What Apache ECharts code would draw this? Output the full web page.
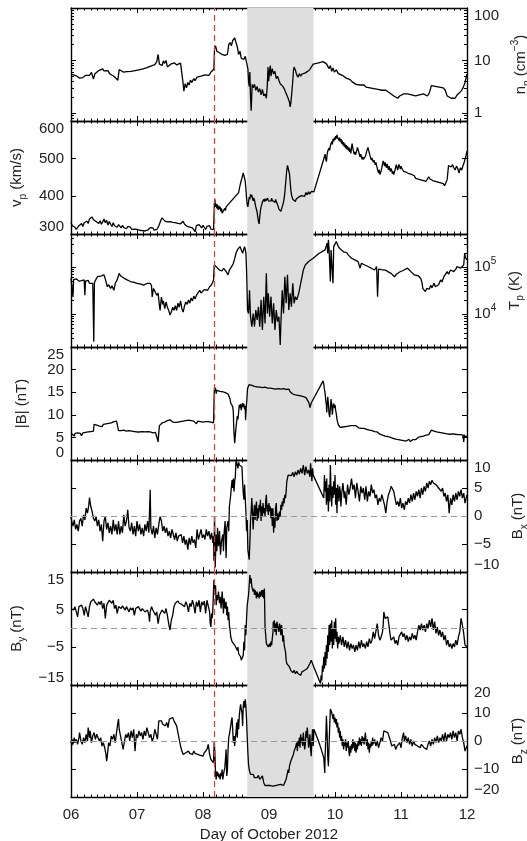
<!DOCTYPE html>
<html><head><meta charset="utf-8">
<script src="https://cdn.jsdelivr.net/npm/echarts@6/dist/echarts.min.js"></script>
<style>html,body{margin:0;padding:0;background:#fff}#c{width:527px;height:841px}</style>
</head><body><div id="c"></div>
<script>
// ---- data (day of October 2012, value) ----
const dayMin = 6, dayMax = 12;
const shockDay = 8.167;
const sheathStart = 8.67, sheathEnd = 9.675;

const np = [[6.00,5.4],[6.02,5.0],[6.04,5.3],[6.06,4.9],[6.08,5.1],[6.10,4.8],[6.13,4.6],[6.15,5.0],[6.18,4.7],[6.20,4.5],[6.22,5.2],[6.25,5.6],[6.28,5.2],[6.31,5.9],[6.34,4.4],[6.36,5.5],[6.39,5.9],[6.42,6.4],[6.45,6.0],[6.48,6.9],[6.50,6.3],[6.53,6.0],[6.56,6.4],[6.59,5.5],[6.62,5.2],[6.65,5.0],[6.68,4.6],[6.71,4.2],[6.73,6.7],[6.76,6.2],[6.79,6.0],[6.82,5.7],[6.85,6.1],[6.88,5.6],[6.91,6.2],[6.94,5.9],[6.97,6.4],[7.00,6.2],[7.03,6.6],[7.06,6.3],[7.09,6.9],[7.12,6.7],[7.15,7.3],[7.18,7.0],[7.21,7.8],[7.24,7.4],[7.27,8.3],[7.30,9.5],[7.32,13],[7.34,8.5],[7.36,9.2],[7.38,8.0],[7.40,9.8],[7.42,8.8],[7.44,10],[7.46,7.5],[7.48,7.1],[7.51,8.5],[7.54,7.8],[7.57,9.0],[7.60,8.2],[7.63,7.6],[7.66,8.9],[7.68,9.0],[7.695,4.0],[7.71,2.6],[7.73,3.6],[7.75,3.0],[7.77,3.8],[7.79,3.4],[7.81,4.2],[7.83,3.8],[7.86,4.5],[7.88,4.1],[7.91,4.8],[7.94,4.4],[7.97,5.0],[8.00,4.7],[8.03,5.3],[8.06,5.6],[8.09,5.2],[8.12,6.0],[8.15,6.4],[8.165,6.8],[8.175,17],[8.19,19],[8.21,15],[8.23,16],[8.25,14],[8.27,15],[8.29,13],[8.31,14],[8.33,12.5],[8.35,13.5],[8.37,13],[8.39,20],[8.41,22],[8.43,19],[8.45,24],[8.47,23],[8.48,27],[8.50,22],[8.52,18],[8.54,13],[8.56,15],[8.58,11],[8.60,12],[8.62,10.5],[8.64,12],[8.66,11],[8.68,7.0],[8.69,4.0],[8.70,3.2],[8.71,6.0],[8.72,2.0],[8.73,1.1],[8.745,3.5],[8.76,3.0],[8.78,3.5],[8.80,2.7],[8.82,3.2],[8.84,2.5],[8.86,2.9],[8.88,2.2],[8.90,2.8],[8.92,2.1],[8.94,2.3],[8.96,1.9],[8.975,3.5],[8.985,7.5],[8.995,4.0],[9.01,6.5],[9.02,8.0],[9.03,5.0],[9.05,7.0],[9.07,5.5],[9.09,6.2],[9.11,4.5],[9.13,5.0],[9.15,4.2],[9.17,3.6],[9.19,3.9],[9.21,3.2],[9.23,2.9],[9.25,2.5],[9.27,2.2],[9.29,1.9],[9.31,1.6],[9.32,1.3],[9.33,1.5],[9.345,2.4],[9.36,4.0],[9.37,6.3],[9.38,7.5],[9.40,6.5],[9.42,5.3],[9.44,4.8],[9.46,5.6],[9.48,5.0],[9.50,5.5],[9.52,5.1],[9.55,5.8],[9.58,6.2],[9.61,6.5],[9.64,7.0],[9.67,8.5],[9.75,9.0],[9.82,9.5],[9.85,9.8],[9.87,8.6],[9.89,9.2],[9.91,7.0],[9.93,8.0],[9.95,6.2],[9.97,7.2],[9.99,6.0],[10.02,6.6],[10.05,5.6],[10.08,5.9],[10.11,5.2],[10.14,5.0],[10.17,4.6],[10.20,4.4],[10.23,4.3],[10.26,3.9],[10.29,3.7],[10.32,3.5],[10.35,3.6],[10.38,3.4],[10.41,3.3],[10.44,3.4],[10.47,3.1],[10.50,3.2],[10.53,3.0],[10.56,3.1],[10.59,2.9],[10.62,3.0],[10.65,2.8],[10.68,2.9],[10.71,2.7],[10.74,2.6],[10.77,2.7],[10.80,2.5],[10.83,2.4],[10.86,2.3],[10.89,2.1],[10.92,2.0],[10.95,1.9],[10.98,2.1],[11.01,2.0],[11.04,2.3],[11.07,2.5],[11.10,2.3],[11.13,2.4],[11.16,2.2],[11.19,2.3],[11.22,2.1],[11.25,2.0],[11.28,2.2],[11.31,2.1],[11.34,2.3],[11.37,2.2],[11.40,2.1],[11.43,2.4],[11.46,3.3],[11.49,3.1],[11.52,3.2],[11.55,3.0],[11.58,3.1],[11.61,2.9],[11.64,3.0],[11.67,2.7],[11.70,2.1],[11.73,2.0],[11.76,1.9],[11.79,2.0],[11.82,1.9],[11.85,2.2],[11.88,2.4],[11.91,2.6],[11.94,3.0],[11.97,3.8],[12.00,5.5]];

const vp = [[6.00,330],[6.02,322],[6.04,326],[6.06,318],[6.08,312],[6.10,309],[6.12,322],[6.14,318],[6.16,328],[6.18,320],[6.20,330],[6.22,325],[6.24,334],[6.26,328],[6.28,340],[6.30,336],[6.32,345],[6.34,338],[6.36,342],[6.38,333],[6.40,338],[6.42,328],[6.44,335],[6.46,326],[6.48,332],[6.50,340],[6.52,330],[6.54,336],[6.56,324],[6.58,333],[6.60,326],[6.62,320],[6.64,330],[6.66,322],[6.68,327],[6.70,318],[6.72,325],[6.74,320],[6.76,316],[6.78,323],[6.80,317],[6.82,322],[6.84,314],[6.86,320],[6.88,315],[6.90,318],[6.92,312],[6.94,317],[6.96,313],[6.98,318],[7.00,312],[7.02,316],[7.04,310],[7.06,315],[7.08,309],[7.10,313],[7.12,308],[7.14,304],[7.16,310],[7.18,314],[7.20,317],[7.22,312],[7.24,316],[7.26,310],[7.28,314],[7.30,312],[7.32,318],[7.34,326],[7.36,336],[7.38,343],[7.40,338],[7.42,335],[7.44,337],[7.46,332],[7.48,336],[7.50,333],[7.52,335],[7.54,331],[7.56,334],[7.58,330],[7.60,333],[7.62,328],[7.64,332],[7.66,327],[7.68,330],[7.70,334],[7.72,326],[7.74,330],[7.76,320],[7.78,325],[7.80,318],[7.82,322],[7.84,316],[7.86,320],[7.88,306],[7.90,322],[7.92,318],[7.94,325],[7.96,320],[7.98,316],[8.00,323],[8.02,318],[8.04,312],[8.06,320],[8.08,316],[8.10,322],[8.12,313],[8.14,318],[8.16,312],[8.165,316],[8.172,380],[8.18,392],[8.19,372],[8.20,380],[8.21,368],[8.22,378],[8.23,364],[8.24,375],[8.25,366],[8.26,372],[8.27,360],[8.28,368],[8.29,355],[8.30,350],[8.31,362],[8.32,358],[8.33,368],[8.34,362],[8.35,372],[8.36,368],[8.37,376],[8.38,372],[8.39,380],[8.40,376],[8.41,383],[8.42,380],[8.43,388],[8.44,384],[8.45,392],[8.46,388],[8.47,396],[8.48,393],[8.49,400],[8.50,398],[8.51,404],[8.52,402],[8.53,406],[8.54,410],[8.55,420],[8.56,428],[8.57,436],[8.58,440],[8.59,448],[8.60,452],[8.61,462],[8.62,455],[8.63,448],[8.64,440],[8.65,420],[8.66,395],[8.67,378],[8.68,372],[8.69,385],[8.70,398],[8.71,392],[8.72,405],[8.73,398],[8.74,404],[8.75,394],[8.76,388],[8.77,396],[8.78,390],[8.79,380],[8.80,372],[8.81,365],[8.82,358],[8.83,345],[8.84,334],[8.85,327],[8.86,345],[8.87,362],[8.88,372],[8.89,378],[8.90,385],[8.91,380],[8.92,392],[8.93,386],[8.94,394],[8.95,388],[8.96,392],[8.97,386],[8.98,395],[8.99,388],[9.00,393],[9.01,386],[9.02,391],[9.03,387],[9.04,395],[9.05,389],[9.06,392],[9.07,385],[9.08,390],[9.09,384],[9.10,392],[9.11,386],[9.12,382],[9.13,378],[9.14,372],[9.15,366],[9.16,362],[9.17,368],[9.18,360],[9.19,365],[9.20,372],[9.21,378],[9.22,385],[9.23,395],[9.24,410],[9.25,430],[9.26,452],[9.27,470],[9.28,482],[9.29,487],[9.30,478],[9.31,460],[9.32,440],[9.33,418],[9.34,405],[9.35,398],[9.36,392],[9.37,396],[9.38,388],[9.39,394],[9.40,386],[9.41,392],[9.42,388],[9.43,395],[9.44,390],[9.45,398],[9.46,393],[9.47,400],[9.48,396],[9.49,402],[9.50,398],[9.52,405],[9.54,400],[9.56,410],[9.58,404],[9.60,412],[9.62,406],[9.64,413],[9.66,408],[9.68,412],[9.84,505],[9.85,512],[9.86,498],[9.87,492],[9.88,510],[9.89,520],[9.90,515],[9.91,528],[9.92,522],[9.93,535],[9.94,530],[9.95,545],[9.96,538],[9.97,552],[9.98,546],[9.99,556],[10.00,550],[10.01,560],[10.02,553],[10.03,563],[10.04,556],[10.05,560],[10.06,548],[10.07,556],[10.08,545],[10.09,552],[10.10,540],[10.11,548],[10.12,536],[10.13,544],[10.14,532],[10.15,540],[10.16,528],[10.17,536],[10.18,525],[10.19,533],[10.20,522],[10.21,530],[10.22,518],[10.23,526],[10.24,514],[10.25,530],[10.26,540],[10.27,528],[10.28,520],[10.29,512],[10.30,518],[10.31,510],[10.32,516],[10.33,522],[10.34,530],[10.35,526],[10.36,518],[10.37,510],[10.38,504],[10.39,512],[10.40,506],[10.41,498],[10.42,505],[10.43,498],[10.44,503],[10.45,498],[10.46,506],[10.47,512],[10.48,520],[10.49,515],[10.50,530],[10.51,522],[10.52,515],[10.53,508],[10.54,502],[10.55,496],[10.56,502],[10.57,496],[10.58,490],[10.59,496],[10.60,490],[10.61,484],[10.62,490],[10.63,482],[10.64,475],[10.65,468],[10.66,462],[10.67,470],[10.68,458],[10.69,462],[10.70,468],[10.71,476],[10.72,486],[10.73,494],[10.74,488],[10.75,480],[10.76,490],[10.77,482],[10.78,476],[10.79,486],[10.80,478],[10.81,470],[10.82,480],[10.83,472],[10.84,466],[10.85,474],[10.86,468],[10.87,460],[10.88,466],[10.89,458],[10.90,464],[10.91,470],[10.92,478],[10.93,484],[10.94,476],[10.95,470],[10.96,478],[10.97,485],[10.98,479],[10.99,472],[11.00,480],[11.02,472],[11.04,466],[11.06,470],[11.08,464],[11.10,468],[11.12,460],[11.14,465],[11.16,458],[11.18,462],[11.20,455],[11.22,448],[11.24,452],[11.26,446],[11.28,450],[11.30,444],[11.32,448],[11.34,442],[11.36,446],[11.38,440],[11.40,446],[11.42,452],[11.44,446],[11.46,450],[11.48,442],[11.50,446],[11.52,440],[11.54,444],[11.56,438],[11.58,442],[11.60,436],[11.62,440],[11.64,434],[11.66,428],[11.68,436],[11.70,445],[11.72,482],[11.74,486],[11.76,478],[11.78,484],[11.80,476],[11.82,470],[11.84,480],[11.86,474],[11.88,462],[11.90,476],[11.92,470],[11.94,482],[11.96,492],[11.98,505],[12.00,520]];

const tp = [[6.00,5.7e4],[6.01,5.3e4],[6.02,5.5e4],[6.03,2.3e4],[6.04,5.4e4],[6.06,5.2e4],[6.08,5.6e4],[6.10,5.5e4],[6.12,5.0e4],[6.14,5.4e4],[6.16,5.1e4],[6.18,5.4e4],[6.20,5.3e4],[6.21,2.5e4],[6.22,5.0e4],[6.24,4.9e4],[6.26,5.2e4],[6.28,4.5e4],[6.30,4.7e4],[6.33,4.5e4],[6.345,2.6e3],[6.355,4.6e4],[6.37,5.2e4],[6.40,6.2e4],[6.42,5.8e4],[6.45,6.4e4],[6.48,6.0e4],[6.50,6.8e4],[6.52,5.5e4],[6.55,3.8e4],[6.57,4.2e4],[6.60,3.5e4],[6.62,4.0e4],[6.65,3.2e4],[6.67,4.5e4],[6.70,5.3e4],[6.72,6.6e4],[6.73,7.3e4],[6.75,6.5e4],[6.78,6.2e4],[6.80,5.8e4],[6.83,6.0e4],[6.85,5.3e4],[6.88,5.6e4],[6.90,4.9e4],[6.93,5.1e4],[6.96,4.7e4],[7.00,4.5e4],[7.03,4.6e4],[7.06,4.3e4],[7.10,4.1e4],[7.13,4.3e4],[7.16,4.5e4],[7.20,4.5e4],[7.22,4.0e4],[7.23,2.3e4],[7.25,3.5e4],[7.28,3.3e4],[7.30,2.5e4],[7.32,2.8e4],[7.34,1.5e4],[7.35,1.2e4],[7.37,2.3e4],[7.39,1.6e4],[7.40,1.9e4],[7.42,1.3e4],[7.44,1.8e4],[7.46,1.4e4],[7.48,1.2e4],[7.50,9.5e3],[7.52,1.1e4],[7.54,1.4e4],[7.56,1.2e4],[7.58,1.5e4],[7.60,1.2e4],[7.62,1.7e4],[7.64,1.4e4],[7.66,1.9e4],[7.68,1.3e4],[7.70,1.1e4],[7.72,1.5e4],[7.74,1.8e4],[7.76,1.6e4],[7.78,2.0e4],[7.80,1.7e4],[7.82,2.2e4],[7.84,1.9e4],[7.86,2.4e4],[7.88,2.1e4],[7.90,2.5e4],[7.92,2.3e4],[7.95,3.2e4],[7.97,2.8e4],[8.00,3.0e4],[8.02,3.3e4],[8.05,3.5e4],[8.07,3.2e4],[8.10,3.8e4],[8.13,4.2e4],[8.16,5.3e4],[8.17,1.1e5],[8.19,1.05e5],[8.21,9.8e4],[8.23,1.0e5],[8.25,8.6e4],[8.27,9.0e4],[8.29,8.2e4],[8.31,9.4e4],[8.33,8.8e4],[8.35,8.0e4],[8.37,7.5e4],[8.38,6.8e4],[8.40,8.6e4],[8.42,9.2e4],[8.44,1.05e5],[8.46,1.2e5],[8.48,1.5e5],[8.50,1.95e5],[8.52,2.3e5],[8.54,2.5e5],[8.56,2.7e5],[8.58,2.94e5],[8.60,1.95e5],[8.61,2.2e5],[8.63,2.7e5],[8.65,2.0e5],[8.66,8.6e4],[8.675,1.2e4],[8.69,1.03e4],[8.705,3.2e4],[8.72,8.8e3],[8.74,5.4e3],[8.76,1.03e4],[8.78,5.4e3],[8.80,1.22e4],[8.82,7.5e3],[8.84,1.43e4],[8.86,5.4e3],[8.88,2.0e4],[8.90,4.6e3],[8.92,2.34e4],[8.94,6.3e3],[8.96,7.3e4],[8.975,1.03e4],[8.99,2.75e4],[9.01,8.8e3],[9.03,2.34e4],[9.05,6.3e3],[9.07,1.69e4],[9.09,4.6e3],[9.11,1.22e4],[9.13,6.9e3],[9.15,8.8e3],[9.16,4.6e3],[9.17,2.2e3],[9.18,6.3e3],[9.20,3.2e4],[9.22,1.03e4],[9.24,6.2e4],[9.26,1.69e4],[9.28,6.8e4],[9.30,1.22e4],[9.32,2.75e4],[9.34,1.43e4],[9.36,4.5e4],[9.38,1.69e4],[9.40,2.34e4],[9.42,2.0e4],[9.45,2.75e4],[9.48,4.5e4],[9.52,8.6e4],[9.55,1.1e5],[9.60,1.3e5],[9.67,1.53e5],[9.75,1.9e5],[9.85,2.3e5],[9.87,2.5e5],[9.88,3.2e5],[9.89,1.95e5],[9.90,3.75e5],[9.91,2.4e5],[9.92,2.3e5],[9.93,4.9e4],[9.94,2.3e5],[9.96,7.3e4],[9.97,4.5e4],[9.98,2.7e5],[10.00,2.9e5],[10.02,3.46e5],[10.05,2.71e5],[10.08,2.4e5],[10.10,2.3e5],[10.13,2.1e5],[10.15,1.95e5],[10.18,2.0e5],[10.20,1.8e5],[10.23,1.7e5],[10.25,1.53e5],[10.28,1.5e5],[10.30,1.41e5],[10.33,1.35e5],[10.35,1.3e5],[10.37,1.2e5],[10.38,9.4e4],[10.40,1.2e5],[10.43,1.1e5],[10.45,1.1e5],[10.48,1.05e5],[10.50,1.02e5],[10.53,1.0e5],[10.55,9.4e4],[10.58,9.8e4],[10.60,8.6e4],[10.62,9.4e4],[10.63,1.02e5],[10.645,2.34e4],[10.66,9.0e4],[10.68,8.6e4],[10.70,8.8e4],[10.73,8.2e4],[10.76,8.6e4],[10.80,7.96e4],[10.83,7.5e4],[10.85,7.3e4],[10.88,6.8e4],[10.90,6.2e4],[10.93,7.0e4],[10.95,7.3e4],[10.98,7.8e4],[11.00,7.96e4],[11.03,8.4e4],[11.06,9.0e4],[11.10,9.4e4],[11.13,8.6e4],[11.15,7.96e4],[11.18,7.5e4],[11.20,6.8e4],[11.23,7.0e4],[11.26,6.5e4],[11.28,6.2e4],[11.30,5.7e4],[11.32,4.5e4],[11.33,3.5e4],[11.35,3.8e4],[11.37,3.0e4],[11.39,3.5e4],[11.41,3.8e4],[11.43,3.4e4],[11.45,4.1e4],[11.47,3.6e4],[11.50,4.5e4],[11.52,3.8e4],[11.55,3.5e4],[11.57,4.2e4],[11.60,5.3e4],[11.62,4.8e4],[11.65,6.2e4],[11.68,6.8e4],[11.70,7.96e4],[11.72,7.0e4],[11.75,8.6e4],[11.78,8.0e4],[11.80,7.96e4],[11.83,9.0e4],[11.85,1.02e5],[11.88,9.4e4],[11.90,9.4e4],[11.93,1.0e5],[11.95,1.1e5],[11.965,1.95e5],[11.975,1.6e5],[11.99,1.5e5],[12.00,1.41e5]];

const bt = [[6.00,5.9],[6.01,5.5],[6.02,6.0],[6.03,5.6],[6.05,5.3],[6.06,5.9],[6.08,5.7],[6.10,6.0],[6.12,5.6],[6.14,5.9],[6.16,5.4],[6.18,6.0],[6.20,5.8],[6.22,6.1],[6.24,5.7],[6.26,6.2],[6.28,5.9],[6.30,6.3],[6.32,6.0],[6.34,6.4],[6.35,7.9],[6.37,8.1],[6.39,7.7],[6.41,7.9],[6.43,7.5],[6.45,7.8],[6.47,7.4],[6.49,7.9],[6.51,7.6],[6.53,8.0],[6.55,7.7],[6.57,8.1],[6.59,7.8],[6.61,8.2],[6.63,8.0],[6.65,8.5],[6.67,8.4],[6.69,8.6],[6.71,8.5],[6.72,6.5],[6.74,6.8],[6.76,6.5],[6.78,6.9],[6.80,6.6],[6.82,6.7],[6.84,6.4],[6.86,6.6],[6.88,6.5],[6.90,6.7],[6.92,6.4],[6.94,6.5],[6.96,6.3],[6.98,6.5],[7.00,6.2],[7.02,6.4],[7.04,6.2],[7.06,6.1],[7.08,6.3],[7.10,6.1],[7.12,6.2],[7.14,6.0],[7.16,6.3],[7.18,6.6],[7.20,6.2],[7.22,6.5],[7.24,6.0],[7.26,6.4],[7.28,6.1],[7.30,5.8],[7.31,4.6],[7.32,4.0],[7.33,6.0],[7.34,7.6],[7.36,7.9],[7.38,8.2],[7.40,8.0],[7.42,8.4],[7.44,8.3],[7.46,8.7],[7.48,8.5],[7.50,8.9],[7.52,8.6],[7.54,8.4],[7.56,8.7],[7.58,8.3],[7.60,8.6],[7.62,8.4],[7.64,8.7],[7.66,8.5],[7.68,8.8],[7.70,8.6],[7.72,8.5],[7.74,8.7],[7.76,8.5],[7.78,8.8],[7.80,8.6],[7.82,8.7],[7.84,8.4],[7.86,8.6],[7.88,8.3],[7.90,8.0],[7.92,8.6],[7.94,8.8],[7.96,8.5],[7.98,8.7],[8.00,8.4],[8.02,8.6],[8.04,8.5],[8.06,8.3],[8.08,8.5],[8.10,8.2],[8.12,8.4],[8.14,8.1],[8.16,8.2],[8.17,14.8],[8.175,16.2],[8.18,15.3],[8.19,15.9],[8.20,14.7],[8.21,15.4],[8.22,15.0],[8.24,15.6],[8.26,15.2],[8.28,15.5],[8.30,15.1],[8.32,15.4],[8.34,14.9],[8.36,15.2],[8.38,14.6],[8.40,14.4],[8.41,13.5],[8.42,12.6],[8.43,12.2],[8.44,12.9],[8.45,11.8],[8.46,10.5],[8.465,7.5],[8.47,6.0],[8.48,3.7],[8.49,5.5],[8.50,7.2],[8.51,8.5],[8.52,9.7],[8.53,9.0],[8.54,10.6],[8.55,12.2],[8.56,11.5],[8.57,12.4],[8.58,11.0],[8.59,12.0],[8.60,12.6],[8.61,11.7],[8.62,12.4],[8.63,11.2],[8.64,12.0],[8.645,8.8],[8.655,11.5],[8.665,13.5],[8.675,15.8],[8.685,16.2],[8.70,16.7],[8.72,16.3],[8.74,16.5],[8.76,16.1],[8.78,16.3],[8.80,16.0],[8.82,16.2],[8.84,15.9],[8.86,16.1],[8.88,15.8],[8.90,16.0],[8.92,15.9],[8.94,16.1],[8.96,15.8],[8.98,15.9],[9.00,15.7],[9.02,15.9],[9.04,15.6],[9.06,15.8],[9.08,15.5],[9.10,15.7],[9.12,15.6],[9.14,15.8],[9.16,15.5],[9.18,15.7],[9.20,15.6],[9.22,15.8],[9.24,15.5],[9.26,15.6],[9.28,15.4],[9.30,15.7],[9.32,15.1],[9.34,14.8],[9.36,14.6],[9.38,14.7],[9.40,14.4],[9.42,14.6],[9.44,14.3],[9.46,14.5],[9.48,14.2],[9.50,14.4],[9.52,14.0],[9.54,13.6],[9.56,13.8],[9.58,13.3],[9.60,12.8],[9.61,12.3],[9.62,11.6],[9.63,12.0],[9.64,12.6],[9.66,13.0],[9.82,17.5],[9.83,16.8],[9.84,15.6],[9.85,14.8],[9.86,13.2],[9.87,12.0],[9.875,10.5],[9.88,11.8],[9.89,14.0],[9.90,12.5],[9.91,10.2],[9.92,9.5],[9.93,11.5],[9.94,13.5],[9.95,12.2],[9.96,10.0],[9.97,11.8],[9.98,12.5],[9.99,11.5],[10.00,12.2],[10.01,11.0],[10.02,10.2],[10.03,9.0],[10.04,8.4],[10.05,7.8],[10.06,7.4],[10.07,7.8],[10.08,7.2],[10.10,7.5],[10.12,7.3],[10.14,7.6],[10.16,7.4],[10.18,7.7],[10.20,7.5],[10.22,7.8],[10.24,7.6],[10.26,7.9],[10.28,7.6],[10.30,7.4],[10.32,7.6],[10.34,7.3],[10.36,7.1],[10.38,7.3],[10.40,7.0],[10.42,6.8],[10.44,7.0],[10.46,6.6],[10.48,6.8],[10.50,6.4],[10.52,6.6],[10.54,6.3],[10.56,6.5],[10.58,6.2],[10.60,6.3],[10.62,6.0],[10.64,6.2],[10.66,5.9],[10.68,5.7],[10.70,5.6],[10.72,5.5],[10.74,5.6],[10.76,5.3],[10.78,5.4],[10.80,5.2],[10.82,5.3],[10.84,5.0],[10.86,5.1],[10.88,4.8],[10.90,4.9],[10.92,4.6],[10.94,4.8],[10.96,4.5],[10.98,4.7],[11.00,4.4],[11.02,4.6],[11.04,4.3],[11.06,4.5],[11.08,4.2],[11.10,4.4],[11.12,4.6],[11.14,4.1],[11.16,4.3],[11.18,4.5],[11.20,4.7],[11.22,4.5],[11.24,4.8],[11.26,5.0],[11.28,4.8],[11.30,5.2],[11.32,5.0],[11.34,5.3],[11.36,5.2],[11.38,5.5],[11.40,5.3],[11.42,5.6],[11.44,6.0],[11.46,6.6],[11.48,6.2],[11.50,6.4],[11.52,6.0],[11.54,6.2],[11.56,5.9],[11.58,6.1],[11.60,5.8],[11.62,6.0],[11.64,5.7],[11.66,5.9],[11.68,5.7],[11.70,5.8],[11.72,5.5],[11.74,5.7],[11.76,5.6],[11.78,5.8],[11.80,5.5],[11.82,5.7],[11.84,5.4],[11.86,5.6],[11.88,5.3],[11.90,5.6],[11.92,5.2],[11.94,5.5],[11.95,4.0],[11.96,5.6],[11.98,5.0],[12.00,5.3]];

const bx = [[6.00,-0.1],[6.01,-0.9],[6.03,-1.8],[6.05,-0.7],[6.07,-2.4],[6.09,-1.5],[6.11,-2.7],[6.13,-0.9],[6.15,-0.4],[6.17,-1.8],[6.19,0.2],[6.21,-0.7],[6.23,1.4],[6.25,0.5],[6.27,2.0],[6.28,3.3],[6.30,1.7],[6.32,0.8],[6.34,-0.4],[6.36,-0.9],[6.38,-0.1],[6.40,-1.8],[6.42,-0.7],[6.44,-2.7],[6.46,-1.5],[6.48,-4.5],[6.50,-0.9],[6.52,-0.1],[6.54,-2.4],[6.56,-1.2],[6.58,-3.0],[6.60,-1.8],[6.62,-3.3],[6.64,-0.7],[6.66,-2.7],[6.68,-1.5],[6.70,-3.3],[6.72,-0.9],[6.74,-3.3],[6.76,-1.8],[6.78,-3.0],[6.80,0.2],[6.82,-1.8],[6.84,-0.9],[6.86,1.1],[6.88,-2.1],[6.90,-2.7],[6.92,-1.2],[6.94,-3.3],[6.96,-1.8],[6.98,-3.6],[7.00,-0.9],[7.02,-2.7],[7.04,-1.5],[7.06,-3.3],[7.08,-2.1],[7.10,-3.6],[7.12,-1.5],[7.14,-2.7],[7.16,-0.9],[7.18,-3.0],[7.20,4.7],[7.21,-2.1],[7.23,-3.3],[7.25,-1.8],[7.27,-3.9],[7.29,-2.1],[7.31,-3.3],[7.33,-1.5],[7.35,-0.1],[7.37,-0.9],[7.39,-2.7],[7.41,-1.8],[7.43,-3.0],[7.45,-2.1],[7.47,-3.6],[7.49,-2.7],[7.51,-3.9],[7.53,-2.4],[7.55,-3.3],[7.57,-4.2],[7.59,-3.0],[7.61,-4.5],[7.63,-3.6],[7.65,-3.9],[7.67,-3.3],[7.69,-4.8],[7.71,-3.6],[7.73,-5.1],[7.75,-4.2],[7.77,-6.0],[7.79,-3.9],[7.81,-5.1],[7.83,-3.6],[7.85,-4.8],[7.87,-4.2],[7.89,-5.7],[7.91,-2.4],[7.93,-4.2],[7.95,-3.3],[7.97,-2.4],[7.99,-3.9],[8.01,-3.3],[8.03,-4.2],[8.05,-2.4],[8.07,-3.6],[8.09,-2.7],[8.11,-4.2],[8.13,-3.0],[8.15,-4.8],[8.16,-3.6],[8.165,-8.0],[8.175,-0.1],[8.185,-9.2],[8.20,-3.3],[8.21,-6.3],[8.22,-2.1],[8.235,-5.4],[8.25,-2.7],[8.265,-6.9],[8.28,-4.5],[8.30,-3.3],[8.31,-6.3],[8.32,-3.0],[8.335,-0.9],[8.35,-7.5],[8.36,-2.1],[8.38,-0.9],[8.39,-2.7],[8.40,1.7],[8.42,3.8],[8.44,6.4],[8.45,5.0],[8.46,6.7],[8.47,4.4],[8.48,6.2],[8.49,7.0],[8.50,10.0],[8.52,9.7],[8.53,8.5],[8.54,9.6],[8.55,9.1],[8.57,8.8],[8.58,9.1],[8.59,8.8],[8.60,6.2],[8.61,4.1],[8.62,2.9],[8.63,5.6],[8.65,0.8],[8.66,-2.7],[8.67,-0.7],[8.68,-6.0],[8.69,-6.9],[8.70,-7.8],[8.71,-4.8],[8.72,-0.9],[8.73,0.8],[8.74,3.2],[8.75,0.5],[8.76,-2.4],[8.77,0.5],[8.78,2.0],[8.79,-0.7],[8.80,1.4],[8.81,2.6],[8.82,-0.9],[8.83,1.4],[8.84,-0.4],[8.85,2.0],[8.86,0.8],[8.87,2.9],[8.88,-0.9],[8.89,1.7],[8.90,-0.1],[8.91,2.3],[8.92,0.5],[8.93,1.4],[8.94,-0.1],[8.95,2.6],[8.96,3.8],[8.97,0.8],[8.98,2.0],[8.99,0.2],[9.00,2.3],[9.01,0.8],[9.02,1.7],[9.03,-0.4],[9.04,1.4],[9.05,-1.8],[9.06,1.4],[9.07,-3.0],[9.08,-0.4],[9.09,-2.1],[9.10,1.4],[9.11,2.3],[9.12,-0.9],[9.13,0.5],[9.14,-0.7],[9.15,-0.1],[9.16,0.8],[9.17,-0.1],[9.18,2.0],[9.19,1.1],[9.20,2.6],[9.21,1.7],[9.22,3.2],[9.23,2.3],[9.24,3.8],[9.25,3.2],[9.26,4.4],[9.27,6.2],[9.28,6.7],[9.29,7.3],[9.30,7.0],[9.32,7.6],[9.34,7.2],[9.36,7.8],[9.38,7.0],[9.40,7.9],[9.42,7.3],[9.44,8.2],[9.46,7.5],[9.48,8.5],[9.50,7.6],[9.52,9.1],[9.54,7.3],[9.56,8.8],[9.58,7.6],[9.60,8.2],[9.62,7.0],[9.63,9.4],[9.64,9.7],[9.65,6.2],[9.66,8.5],[9.67,7.3],[9.83,3.2],[9.84,7.3],[9.85,4.4],[9.86,6.2],[9.87,2.0],[9.875,6.7],[9.88,2.6],[9.89,5.0],[9.90,0.8],[9.91,5.6],[9.92,2.6],[9.93,9.1],[9.94,4.4],[9.95,1.7],[9.96,5.3],[9.97,3.2],[9.98,6.2],[9.99,3.8],[10.00,7.3],[10.01,2.0],[10.02,5.0],[10.03,0.5],[10.04,5.6],[10.05,4.4],[10.06,2.6],[10.07,5.3],[10.08,4.4],[10.09,1.7],[10.10,3.8],[10.12,5.9],[10.14,3.2],[10.15,4.4],[10.17,2.0],[10.19,5.6],[10.21,3.8],[10.23,5.0],[10.25,6.7],[10.27,4.7],[10.29,5.6],[10.31,3.2],[10.33,5.9],[10.35,4.4],[10.37,2.6],[10.39,5.3],[10.41,4.1],[10.43,5.0],[10.45,2.9],[10.47,5.3],[10.49,2.6],[10.51,4.4],[10.53,3.5],[10.55,5.6],[10.57,4.1],[10.59,4.7],[10.61,3.2],[10.63,3.8],[10.65,2.0],[10.67,3.2],[10.69,2.6],[10.71,3.8],[10.73,2.9],[10.75,2.0],[10.77,0.5],[10.79,2.6],[10.81,3.8],[10.83,4.4],[10.85,5.3],[10.87,5.0],[10.89,4.4],[10.91,3.2],[10.93,2.0],[10.95,2.6],[10.97,1.7],[10.99,3.2],[11.01,1.4],[11.03,2.3],[11.05,1.1],[11.07,2.6],[11.09,2.0],[11.11,3.2],[11.13,2.3],[11.15,3.8],[11.17,2.6],[11.19,4.1],[11.21,2.9],[11.23,4.4],[11.25,3.5],[11.27,4.7],[11.29,3.2],[11.31,5.0],[11.33,3.8],[11.35,5.3],[11.37,4.4],[11.39,5.9],[11.41,5.0],[11.43,6.2],[11.45,5.6],[11.47,6.4],[11.49,5.9],[11.51,6.2],[11.53,5.6],[11.55,5.9],[11.57,5.0],[11.59,5.3],[11.61,4.4],[11.63,5.0],[11.65,3.5],[11.67,4.1],[11.69,2.6],[11.71,3.8],[11.73,0.5],[11.75,3.2],[11.77,2.0],[11.79,3.8],[11.81,2.6],[11.83,4.1],[11.85,2.9],[11.87,4.4],[11.89,3.5],[11.91,4.7],[11.93,3.2],[11.95,4.1],[11.97,2.3],[12.00,3.8]];

const by = [[6.00,5.3],[6.02,5.5],[6.04,4.9],[6.06,5.8],[6.08,5.3],[6.10,3.1],[6.12,5.8],[6.14,5.5],[6.16,6.2],[6.18,5.3],[6.20,3.5],[6.22,5.8],[6.24,6.2],[6.26,3.1],[6.28,5.8],[6.30,7.1],[6.32,6.9],[6.34,7.8],[6.36,7.1],[6.38,7.5],[6.40,6.2],[6.42,7.1],[6.44,6.4],[6.46,7.3],[6.48,5.3],[6.50,6.7],[6.52,2.7],[6.54,6.2],[6.56,6.7],[6.58,7.5],[6.60,8.0],[6.62,6.7],[6.64,7.5],[6.66,5.3],[6.68,6.2],[6.70,4.0],[6.72,5.8],[6.74,6.2],[6.76,5.3],[6.78,6.0],[6.80,5.5],[6.82,4.9],[6.84,5.8],[6.86,5.3],[6.88,4.4],[6.90,5.5],[6.92,4.9],[6.94,5.5],[6.96,3.5],[6.98,5.3],[7.00,4.9],[7.02,5.8],[7.04,5.3],[7.06,4.6],[7.08,5.3],[7.10,4.9],[7.12,4.4],[7.14,4.0],[7.16,4.9],[7.18,3.5],[7.19,1.8],[7.20,4.4],[7.22,5.8],[7.24,4.9],[7.26,5.3],[7.28,3.5],[7.30,4.4],[7.31,2.7],[7.32,1.3],[7.34,3.5],[7.36,4.0],[7.38,4.9],[7.40,4.4],[7.42,4.0],[7.44,5.3],[7.46,3.5],[7.48,1.3],[7.50,-0.4],[7.52,2.2],[7.54,3.5],[7.56,5.8],[7.58,6.7],[7.60,7.1],[7.62,7.3],[7.64,6.7],[7.66,7.1],[7.68,6.4],[7.70,6.9],[7.72,5.8],[7.74,7.1],[7.76,6.2],[7.78,4.4],[7.80,6.7],[7.82,5.8],[7.84,7.5],[7.86,6.2],[7.88,4.0],[7.90,7.1],[7.92,5.8],[7.94,7.5],[7.96,4.4],[7.98,7.1],[8.00,6.2],[8.02,7.3],[8.04,4.0],[8.06,7.5],[8.08,8.0],[8.10,4.4],[8.11,1.3],[8.12,0.4],[8.13,4.0],[8.14,2.7],[8.15,5.3],[8.165,12.9],[8.18,10.2],[8.19,11.5],[8.20,6.2],[8.21,8.9],[8.22,7.5],[8.235,9.8],[8.25,6.7],[8.26,8.4],[8.275,5.3],[8.29,9.8],[8.30,7.1],[8.31,4.0],[8.32,8.0],[8.335,5.3],[8.35,7.1],[8.36,3.5],[8.37,5.8],[8.38,2.2],[8.39,4.4],[8.40,0.9],[8.41,-0.4],[8.42,-2.2],[8.44,-3.5],[8.46,-3.1],[8.48,-4.4],[8.50,-4.9],[8.51,-4.0],[8.52,-5.8],[8.53,-4.9],[8.54,-6.7],[8.56,-6.2],[8.57,-7.5],[8.58,-8.4],[8.60,-8.9],[8.61,-7.1],[8.62,-3.5],[8.63,-5.8],[8.64,0.9],[8.65,-1.8],[8.66,2.7],[8.67,6.2],[8.68,5.8],[8.69,8.9],[8.70,11.5],[8.71,14.2],[8.72,12.0],[8.73,13.3],[8.74,11.1],[8.75,10.6],[8.76,9.8],[8.77,10.6],[8.78,8.9],[8.79,10.2],[8.80,9.3],[8.81,8.0],[8.82,9.8],[8.83,8.4],[8.84,9.3],[8.85,8.0],[8.86,9.8],[8.87,8.4],[8.88,9.3],[8.89,10.2],[8.90,8.4],[8.91,10.2],[8.92,8.0],[8.93,10.6],[8.94,0.4],[8.95,-1.8],[8.96,-4.0],[8.97,-4.4],[8.98,-4.0],[8.99,-4.9],[9.00,-4.4],[9.01,-4.0],[9.02,-4.9],[9.03,-3.5],[9.04,-4.4],[9.05,-4.4],[9.06,-0.9],[9.065,1.8],[9.07,0.9],[9.08,2.2],[9.09,-0.9],[9.10,1.3],[9.11,-1.8],[9.12,1.8],[9.13,2.2],[9.14,0],[9.15,-0.9],[9.16,1.3],[9.17,0.4],[9.18,-1.8],[9.19,0.9],[9.20,-0.9],[9.21,-3.5],[9.22,-1.8],[9.23,-4.4],[9.24,-4.9],[9.25,-6.2],[9.26,-8.4],[9.27,-9.3],[9.28,-8.9],[9.29,-9.8],[9.30,-9.3],[9.31,-10.2],[9.32,-9.8],[9.33,-11.1],[9.34,-11.4],[9.35,-10.6],[9.36,-11.7],[9.38,-11.1],[9.40,-12.0],[9.42,-11.4],[9.44,-12.0],[9.46,-11.5],[9.48,-12.4],[9.50,-11.5],[9.52,-12.0],[9.54,-11.1],[9.56,-11.5],[9.58,-10.6],[9.60,-11.1],[9.62,-9.3],[9.63,-9.8],[9.64,-8.4],[9.66,-8.9],[9.67,-9.8],[9.78,-14.6],[9.79,-12.4],[9.80,-13.8],[9.81,-9.8],[9.82,-11.5],[9.83,-7.5],[9.84,-10.6],[9.85,-6.2],[9.86,-9.8],[9.87,-4.4],[9.88,-8.0],[9.89,-1.8],[9.90,-6.2],[9.91,0.9],[9.92,-4.4],[9.93,1.3],[9.94,-3.5],[9.95,2.2],[9.96,-5.3],[9.97,0],[9.98,-4.4],[9.99,1.8],[10.00,-2.7],[10.01,2.7],[10.02,-3.5],[10.03,-0.9],[10.04,-5.3],[10.05,-2.2],[10.06,-4.0],[10.08,-1.8],[10.10,-4.4],[10.12,-2.2],[10.14,-4.9],[10.16,-3.1],[10.18,-5.3],[10.20,-3.5],[10.22,-5.8],[10.24,-4.0],[10.26,-5.3],[10.28,-4.4],[10.30,-6.2],[10.32,-4.4],[10.34,-5.8],[10.36,-3.5],[10.38,-5.3],[10.40,-3.1],[10.42,-4.9],[10.44,-4.0],[10.46,-5.3],[10.48,-3.5],[10.50,-4.9],[10.52,-2.7],[10.54,-4.0],[10.56,-3.1],[10.58,-0.9],[10.60,-2.7],[10.62,-2.2],[10.64,1.3],[10.66,-1.8],[10.68,-3.1],[10.70,-2.2],[10.72,-0.9],[10.73,0.9],[10.74,4.4],[10.75,4.9],[10.76,2.7],[10.78,2.2],[10.80,3.1],[10.81,1.8],[10.82,1.3],[10.83,-0.9],[10.84,-2.2],[10.85,-3.1],[10.87,-3.5],[10.89,-2.2],[10.91,-4.0],[10.93,-3.1],[10.95,-4.4],[10.97,-2.2],[10.99,-2.7],[11.01,-0.9],[11.03,-2.2],[11.05,-1.3],[11.07,-3.1],[11.09,-1.8],[11.11,-3.5],[11.13,-2.2],[11.15,-3.1],[11.17,-1.3],[11.19,-2.7],[11.21,-1.8],[11.23,-3.1],[11.25,-0.9],[11.27,0.9],[11.29,-0.4],[11.31,1.3],[11.33,-0.4],[11.35,0.9],[11.37,-0.9],[11.39,1.3],[11.41,0],[11.43,2.2],[11.45,0.4],[11.47,2.7],[11.49,-0.4],[11.51,1.8],[11.53,-1.3],[11.55,0.4],[11.57,-1.8],[11.59,-0.4],[11.61,-2.2],[11.63,-0.9],[11.65,-3.1],[11.67,-1.8],[11.69,-4.4],[11.71,-3.1],[11.73,-4.9],[11.75,-4.0],[11.77,-5.3],[11.79,-4.0],[11.81,-4.9],[11.83,-3.1],[11.85,-4.4],[11.87,-2.2],[11.89,-0.9],[11.91,2.7],[11.93,0.9],[11.95,-1.3],[11.97,-4.4],[12.00,-4.9]];

const bz = [[6.00,0],[6.01,-1.8],[6.02,0.6],[6.03,-1.2],[6.04,0],[6.05,1.2],[6.06,-0.6],[6.08,0.6],[6.10,-1.2],[6.12,1.2],[6.13,3.0],[6.15,0],[6.17,-1.2],[6.19,1.2],[6.21,-0.6],[6.23,2.4],[6.25,0],[6.26,4.8],[6.28,1.2],[6.29,3.6],[6.31,-0.6],[6.33,1.8],[6.35,3.0],[6.37,0.6],[6.39,2.4],[6.41,1.2],[6.43,0],[6.45,1.2],[6.47,-1.8],[6.49,-0.6],[6.51,-2.4],[6.53,-4.8],[6.54,-7.2],[6.55,-5.4],[6.57,-0.6],[6.59,-1.8],[6.61,1.8],[6.63,0.6],[6.65,2.4],[6.67,-0.6],[6.69,3.0],[6.71,6.6],[6.72,7.8],[6.73,4.2],[6.75,1.8],[6.77,-0.6],[6.79,-3.0],[6.81,0],[6.83,2.4],[6.85,1.2],[6.87,3.0],[6.89,0],[6.91,3.6],[6.93,1.2],[6.95,4.2],[6.97,-3.6],[6.99,2.4],[7.01,1.2],[7.03,3.6],[7.05,1.8],[7.07,3.0],[7.09,0.6],[7.11,3.6],[7.13,1.8],[7.15,4.8],[7.17,3.0],[7.19,1.2],[7.21,2.4],[7.23,0],[7.25,1.2],[7.27,4.2],[7.29,2.4],[7.31,0.6],[7.33,7.2],[7.35,6.6],[7.37,7.2],[7.39,6.0],[7.41,6.6],[7.43,5.4],[7.45,6.6],[7.47,4.8],[7.49,7.8],[7.50,8.4],[7.52,7.8],[7.54,8.4],[7.56,7.2],[7.58,6.6],[7.60,5.4],[7.62,3.0],[7.64,0.6],[7.66,-1.8],[7.68,-3.6],[7.70,-4.8],[7.72,-5.1],[7.74,-4.2],[7.76,-4.8],[7.78,-3.6],[7.80,-4.4],[7.82,-3.9],[7.84,-4.8],[7.86,-3.6],[7.88,-4.4],[7.90,-3.9],[7.92,-4.8],[7.94,-4.2],[7.96,-5.1],[7.98,-4.4],[8.00,-5.4],[8.02,-4.2],[8.04,-4.8],[8.06,-3.0],[8.08,-1.2],[8.10,-4.8],[8.12,-6.6],[8.14,-7.2],[8.15,-6.0],[8.16,-7.8],[8.17,0],[8.18,-4.2],[8.19,-11.9],[8.20,-13.7],[8.21,-10.8],[8.22,-12.5],[8.23,-11.4],[8.24,-13.1],[8.25,-11.9],[8.26,-13.7],[8.27,-11.4],[8.28,-12.5],[8.29,-10.2],[8.30,-13.7],[8.31,-11.9],[8.32,-11.4],[8.33,-9.6],[8.34,-6.6],[8.35,-3.0],[8.36,-12.5],[8.37,-10.2],[8.38,-3.0],[8.39,1.2],[8.40,2.4],[8.42,5.4],[8.43,7.2],[8.44,8.4],[8.45,4.2],[8.46,-0.6],[8.47,1.8],[8.48,-1.8],[8.49,1.2],[8.50,3.0],[8.51,6.6],[8.52,1.2],[8.53,7.8],[8.54,4.2],[8.55,9.0],[8.56,11.4],[8.57,13.1],[8.58,11.4],[8.59,10.2],[8.60,5.4],[8.61,12.5],[8.62,14.3],[8.63,11.9],[8.64,14.9],[8.65,12.5],[8.66,7.8],[8.67,1.2],[8.68,-4.2],[8.69,-8.4],[8.70,-10.2],[8.72,-11.9],[8.74,-12.5],[8.76,-11.9],[8.78,-13.1],[8.80,-12.5],[8.82,-13.1],[8.84,-12.3],[8.86,-13.7],[8.88,-13.1],[8.90,-12.5],[8.92,-14.9],[8.94,-15.9],[8.96,-15.5],[8.98,-15.9],[9.00,-15.2],[9.02,-15.9],[9.04,-15.5],[9.06,-16.1],[9.08,-15.5],[9.10,-15.9],[9.12,-16.1],[9.14,-15.7],[9.16,-15.9],[9.18,-15.5],[9.20,-16.1],[9.22,-15.9],[9.24,-15.7],[9.26,-13.7],[9.27,-12.5],[9.28,-11.4],[9.29,-10.2],[9.30,-11.4],[9.31,-9.0],[9.32,-9.6],[9.33,-7.2],[9.34,-7.8],[9.35,-6.0],[9.36,-6.6],[9.37,-4.8],[9.38,-3.6],[9.39,-4.2],[9.40,-2.4],[9.41,-3.0],[9.42,-0.6],[9.43,-3.6],[9.44,0],[9.45,-1.8],[9.46,1.2],[9.47,-2.4],[9.48,2.4],[9.49,-0.6],[9.50,1.2],[9.51,-1.8],[9.52,3.0],[9.53,0],[9.54,-3.0],[9.55,-1.2],[9.56,3.6],[9.57,1.2],[9.58,4.8],[9.59,1.8],[9.60,-2.4],[9.61,-0.6],[9.62,2.4],[9.63,-3.0],[9.64,-5.4],[9.65,0.6],[9.66,4.2],[9.67,-1.8],[9.68,4.2],[9.75,0],[9.80,-3.6],[9.83,-6.0],[9.84,-9.6],[9.845,-11.4],[9.85,-5.4],[9.86,0.6],[9.87,9.0],[9.88,3.0],[9.89,-5.4],[9.90,-9.0],[9.91,-1.8],[9.92,5.4],[9.93,11.4],[9.94,12.0],[9.95,10.2],[9.96,10.8],[9.97,7.8],[9.98,9.6],[9.99,6.6],[10.00,8.4],[10.01,6.0],[10.02,7.8],[10.03,4.8],[10.04,6.6],[10.05,3.0],[10.06,4.8],[10.07,1.2],[10.08,3.6],[10.09,0],[10.10,1.8],[10.11,-1.8],[10.12,0.6],[10.13,-3.0],[10.14,-0.6],[10.15,-1.8],[10.16,0.6],[10.17,-3.6],[10.18,-0.6],[10.19,-2.4],[10.20,0],[10.21,-3.6],[10.22,-5.4],[10.23,-1.8],[10.24,-4.2],[10.25,-1.2],[10.26,-3.0],[10.27,0.6],[10.28,-2.4],[10.29,0],[10.30,-3.6],[10.31,-0.6],[10.32,-4.2],[10.33,-1.2],[10.34,-3.0],[10.35,0],[10.36,-1.8],[10.37,1.2],[10.38,-1.2],[10.39,0.6],[10.40,-1.8],[10.41,1.8],[10.42,-0.6],[10.43,1.2],[10.44,-1.2],[10.45,0.6],[10.46,3.0],[10.47,0],[10.48,-1.8],[10.49,0.6],[10.50,-3.0],[10.51,-0.6],[10.52,-4.2],[10.53,-1.2],[10.54,-2.4],[10.55,0],[10.56,-1.8],[10.57,1.2],[10.58,-1.2],[10.60,0.6],[10.62,-1.8],[10.64,0],[10.66,-2.4],[10.68,-0.6],[10.70,1.2],[10.72,0],[10.74,3.6],[10.75,4.2],[10.77,3.6],[10.80,3.0],[10.82,2.4],[10.84,0],[10.86,-1.8],[10.88,-2.4],[10.90,-1.2],[10.92,-3.0],[10.94,-1.8],[10.96,-2.4],[10.98,-0.6],[11.00,-2.4],[11.02,1.2],[11.04,3.0],[11.05,0],[11.07,1.8],[11.09,-0.6],[11.11,1.2],[11.13,-1.2],[11.15,0.6],[11.17,-1.8],[11.19,0],[11.21,-1.2],[11.23,-0.6],[11.25,-1.8],[11.27,-1.2],[11.29,-2.4],[11.31,-1.2],[11.33,-1.8],[11.35,-2.4],[11.37,-1.8],[11.39,-3.0],[11.41,-1.2],[11.43,0],[11.45,-1.8],[11.47,0.6],[11.49,-1.2],[11.51,1.2],[11.53,-0.6],[11.55,1.8],[11.57,-0.6],[11.59,1.2],[11.61,0],[11.63,2.4],[11.65,0],[11.67,3.0],[11.69,0],[11.71,2.4],[11.73,1.2],[11.75,3.0],[11.77,0.6],[11.79,3.6],[11.81,1.2],[11.83,3.0],[11.85,0],[11.87,3.6],[11.89,2.4],[11.91,4.2],[11.93,1.2],[11.95,-0.6],[11.97,-3.6],[12.00,-1.8]];

// ---- layout / styling ----
const FONT = 'Liberation Sans';
const TXT = '#222';
const panelTops = [8, 121, 234, 347, 460, 572, 685, 797];
const minusFmt = v => String(v).replace('-', '\u2212');
const richTxt = {
  m: {fontSize: 15, lineHeight: 22, fontFamily: FONT, color: TXT},
  s: {fontSize: 10, lineHeight: 10, verticalAlign: 'bottom', fontFamily: FONT, color: TXT},
  u: {fontSize: 10, lineHeight: 10, verticalAlign: 'top', fontFamily: FONT, color: TXT}
};

const panels = [
  {data: np, type: 'log', min: 0.7, max: 100, side: 'right', name: '{m|n}{s|p}{m| (cm}{u|\u22123}{m|)}',
   fmt: v => String(Math.round(v)), showMin: false, showMax: true},
  {data: vp, type: 'value', min: 300, max: 600, interval: 100, side: 'left', name: '{m|v}{s|p}{m| (km/s)}', fmt: minusFmt},
  {data: tp, type: 'log', min: 2000, max: 5e5, side: 'right', name: '{m|T}{s|p}{m| (K)}',
   fmt: v => '{m|10}{u|' + Math.round(Math.log10(v)) + '}', showMin: false, showMax: false},
  {data: bt, type: 'value', min: 0, max: 25, interval: 5, side: 'left', name: '{m||B| (nT)}', fmt: minusFmt},
  {data: bx, type: 'value', min: -10, max: 10, interval: 5, side: 'right', name: '{m|B}{s|x}{m| (nT)}', fmt: minusFmt, zero: true},
  {data: by, type: 'value', min: -15, max: 15, interval: 10, side: 'left', name: '{m|B}{s|y}{m| (nT)}', fmt: minusFmt, zero: true},
  {data: bz, type: 'value', min: -20, max: 20, interval: 10, side: 'right', name: '{m|B}{s|z}{m| (nT)}', fmt: minusFmt, zero: true}
];

const axLine = {show: true, onZero: false, lineStyle: {color: '#000', width: 1.4}};
const tickStyle = {color: '#000', width: 1};
const grid = [], xAxis = [], yAxis = [], series = [];
panels.forEach((p, i) => {
  grid.push({left: 71, right: 60, top: panelTops[i], height: panelTops[i + 1] - panelTops[i],
    containLabel: false, outerBoundsMode: 'none'});
  const last = i === panels.length - 1;
  ['bottom', 'top'].forEach(pos => {
    const lab = last && pos === 'bottom';
    xAxis.push({
      type: 'value', gridIndex: i, position: pos, min: dayMin, max: dayMax, interval: 1,
      axisLine: axLine,
      axisTick: {show: true, inside: true, length: 5, lineStyle: tickStyle},
      minorTick: {show: true, splitNumber: 10, length: 2.5, lineStyle: tickStyle},
      splitLine: {show: false}, minorSplitLine: {show: false},
      axisLabel: {show: lab, margin: 10, color: TXT, fontFamily: FONT, fontSize: 15,
        formatter: v => (v < 10 ? '0' : '') + v},
      name: lab ? 'Day of October 2012' : '', nameLocation: 'middle', nameGap: 30,
      nameTextStyle: {color: TXT, fontFamily: FONT, fontSize: 15}
    });
  });
  ['left', 'right'].forEach(pos => {
    const lab = p.side === pos;
    yAxis.push({
      type: p.type, gridIndex: i, position: pos, min: p.min, max: p.max, interval: p.interval,
      logBase: 10,
      axisLine: axLine,
      axisTick: {show: true, inside: true, length: 5, lineStyle: tickStyle},
      minorTick: {show: p.type === 'log', splitNumber: 9, length: 3, lineStyle: tickStyle},
      splitLine: {show: false}, minorSplitLine: {show: false},
      axisLabel: {show: lab, margin: 7, color: TXT, fontFamily: FONT, fontSize: 15,
        formatter: p.fmt, rich: richTxt,
        showMinLabel: p.showMin !== undefined ? p.showMin : true,
        showMaxLabel: p.showMax !== undefined ? p.showMax : true,
        verticalAlignMinLabel: 'bottom', verticalAlignMaxLabel: 'top'},
      name: lab ? p.name : '', nameLocation: 'middle', nameRotate: 90,
      nameGap: pos === 'left' ? 38 : 31,
      nameTextStyle: {color: TXT, fontFamily: FONT, fontSize: 15, rich: richTxt}
    });
  });
  const mlData = [{xAxis: shockDay, lineStyle: {color: '#e23b33', type: [6, 4], width: 1.2}}];
  if (p.zero) mlData.push({yAxis: 0, lineStyle: {color: '#9a9a9a', type: [6, 4], width: 1.2}});
  series.push({
    type: 'line', xAxisIndex: 2 * i, yAxisIndex: 2 * i, data: p.data,
    showSymbol: false, symbol: 'none', clip: true, animation: false, z: 3,
    lineStyle: {color: '#000', width: 1.3},
    markArea: {silent: true, animation: false, itemStyle: {color: '#dedede'},
      data: [[{xAxis: sheathStart}, {xAxis: sheathEnd}]]},
    markLine: {silent: true, animation: false, symbol: ['none', 'none'], label: {show: false}, data: mlData}
  });
});

const chart = echarts.init(document.getElementById('c'), null, {renderer: 'canvas'});
chart.setOption({backgroundColor: '#fff', animation: false, grid, xAxis, yAxis, series});
</script></body></html>
